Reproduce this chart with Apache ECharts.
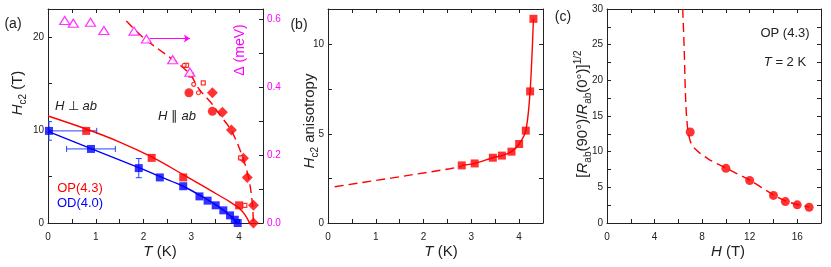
<!DOCTYPE html>
<html><head><meta charset="utf-8">
<script src="https://cdn.jsdelivr.net/npm/echarts@6/dist/echarts.min.js"></script>
<style>html,body{margin:0;padding:0;background:#fff}#c{width:831px;height:267px}</style>
</head><body><div id="c"></div>
<script>
// ---------- Panel (a): Hc2 vs T ----------
const aOpPerp = [[0.80, 9.9], [2.17, 7.0], [2.83, 4.9], [4.00, 1.9]];
const aOpPerpFit = [[0, 11.5], [0.8, 10.1], [1.5, 8.7], [2.17, 7.1], [2.83, 5.2], [3.4, 3.5], [3.8, 2.3], [4.0, 1.6], [4.12, 0.9], [4.22, 0]];
const aOd = [[0.02, 9.9], [0.90, 7.96], [1.90, 5.9], [2.34, 4.9], [2.83, 3.95], [3.17, 2.86], [3.34, 2.4], [3.51, 1.9], [3.67, 1.36], [3.81, 0.82], [3.91, 0.35], [3.97, 0]];
const aOdFit = [[0, 9.85], [0.9, 8.0], [1.9, 5.95], [2.34, 5.0], [2.83, 3.95], [3.34, 2.5], [3.67, 1.4], [3.97, 0]];
// [T, Hc2, xErr, yErr]
const aOdErr = [[0.02, 9.9, 1.0, 1.0], [0.90, 7.96, 0.51, 0], [1.90, 5.9, 0, 1.03]];
const aParCircles = [[2.95, 14.0], [3.44, 12.0]];
const aParDiamonds = [[3.44, 14.0], [3.65, 11.9], [3.84, 10.0], [4.09, 6.95], [4.17, 4.9], [4.30, 1.9], [4.30, 0]];
const aParFit = [[1.64, 21.7], [2.0, 19.9], [2.6, 17.6], [2.97, 16.0], [3.16, 14.4], [3.4, 13.0], [3.6, 11.6], [3.84, 9.9], [4.08, 7.0], [4.2, 4.8], [4.27, 2.5], [4.30, 0]];
const aSmallSquares = [[2.90, 16.95], [2.99, 15.9], [3.25, 15.05], [4.03, 7.0], [4.12, 1.9]];
const aSmallCircles = [[2.85, 16.95], [3.05, 14.9], [3.15, 14.0]];
const aGap = [[0.35, 0.595], [0.53, 0.587], [0.89, 0.59], [1.17, 0.566], [1.80, 0.564], [2.06, 0.541], [2.61, 0.48], [2.97, 0.443]];
const aGapArrow = [[2.13, 0.542], [2.97, 0.542]];
const aXAxis = {min: 0, max: 4.5, interval: 1, showMax: false};
const aYAxis = {min: 0, max: 23, interval: 10, showMax: false};
const aY2Axis = {min: 0, max: 0.629, interval: 0.2, showMax: false};

// ---------- Panel (b): anisotropy ----------
const bAniso = [[2.80, 3.23], [3.07, 3.34], [3.45, 3.66], [3.64, 3.78], [3.84, 4.0], [4.0, 4.43], [4.14, 5.18], [4.23, 7.38], [4.30, 11.45]];
const bAnisoExtrap = [[0.14, 2.03], [1.35, 2.53], [2.55, 3.04], [2.80, 3.18]];
const bXAxis = {min: 0, max: 4.5, interval: 1, showMax: false};
const bYAxis = {min: 0, max: 12, interval: 5, showMax: false};

// ---------- Panel (c): resistance ratio ----------
const cRatio = [[7, 12.75], [10, 7.66], [12, 5.95], [14, 3.87], [15, 3.0], [16, 2.55], [17, 2.2]];
const cRatioFit = [[6.37, 30], [6.5, 24], [6.6, 18], [6.75, 13.8], [7.0, 11.5], [7.4, 10.4], [8.5, 9.0], [10, 7.7], [12, 6.0], [14, 3.95], [15, 3.1], [16, 2.6], [17, 2.25]];
const cXAxis = {min: 0, max: 18, interval: 4, showMax: false};
const cYAxis = {min: 0, max: 30, interval: 5, showMax: true};

const FONT = "'Liberation Sans', Arial, Helvetica, sans-serif";
const RED = '#ff0000', BLUE = '#0000ff', MAG = '#ff00ff', INK = '#222';

function frameAxis(cfg, gridIndex, position, showLabel, labelColor, fmt) {
  return {
    type: 'value', gridIndex, position, min: cfg.min, max: cfg.max, interval: cfg.interval,
    axisLine: {show: true, onZero: false, lineStyle: {color: '#222', width: 1}},
    axisTick: {show: true, inside: true, length: 4, lineStyle: {color: '#222'}},
    minorTick: {show: true, splitNumber: 2, length: 4, lineStyle: {color: '#222'}},
    splitLine: {show: false}, minorSplitLine: {show: false},
    axisLabel: {show: showLabel, color: labelColor || INK, fontSize: 10, fontFamily: FONT,
      showMaxLabel: cfg.showMax, showMinLabel: true,
      margin: (position === 'bottom' || position === 'top') ? 9 : 4,
      formatter: fmt || (v => String(v))}
  };
}

const grids = [
  {left: 48, top: 9, width: 215, height: 214},
  {left: 328, top: 9, width: 215, height: 214},
  {left: 607, top: 9, width: 214, height: 214}
];

const xAxes = [
  frameAxis(aXAxis, 0, 'bottom', true), frameAxis(aXAxis, 0, 'top', false),
  frameAxis(bXAxis, 1, 'bottom', true), frameAxis(bXAxis, 1, 'top', false),
  frameAxis(cXAxis, 2, 'bottom', true), frameAxis(cXAxis, 2, 'top', false)
];
const yAxes = [
  frameAxis(aYAxis, 0, 'left', true), frameAxis(aY2Axis, 0, 'right', true, MAG, v => v.toFixed(1)),
  frameAxis(bYAxis, 1, 'left', true), frameAxis(bYAxis, 1, 'right', false),
  frameAxis(cYAxis, 2, 'left', true), frameAxis(cYAxis, 2, 'right', false)
];

function fitLine(data, xi, yi, color, dashed, smooth) {
  return {type: 'line', xAxisIndex: xi, yAxisIndex: yi, data, showSymbol: false, symbol: 'none',
    smooth: smooth == null ? 0.35 : smooth, lineStyle: {color, width: 1.4, type: dashed ? [9, 5] : 'solid'},
    z: 2, silent: true, animation: false};
}
function pts(data, xi, yi, symbol, size, color, hollow) {
  return {type: 'scatter', xAxisIndex: xi, yAxisIndex: yi, data, symbol, symbolSize: size,
    itemStyle: hollow ? {color: '#fff', borderColor: color, borderWidth: 1.2} : {color}, z: 3, animation: false};
}

const errSeries = {
  type: 'custom', xAxisIndex: 0, yAxisIndex: 0, data: aOdErr, clip: true, z: 1,
  renderItem(params, api) {
    const x = api.value(0), y = api.value(1), xe = api.value(2), ye = api.value(3);
    const st = {stroke: '#2244ff', lineWidth: 1};
    const ch = [];
    const seg = (p, q) => ch.push({type: 'line', shape: {x1: p[0], y1: p[1], x2: q[0], y2: q[1]}, style: st});
    if (xe > 0) {
      const p = api.coord([x - xe, y]), q = api.coord([x + xe, y]);
      seg(p, q); seg([p[0], p[1] - 3], [p[0], p[1] + 3]); seg([q[0], q[1] - 3], [q[0], q[1] + 3]);
    }
    if (ye > 0) {
      const p = api.coord([x, y - ye]), q = api.coord([x, y + ye]);
      seg(p, q); seg([p[0] - 3, p[1]], [p[0] + 3, p[1]]); seg([q[0] - 3, q[1]], [q[0] + 3, q[1]]);
    }
    return {type: 'group', children: ch};
  }
};

const series = [
  errSeries,
  fitLine(aOpPerpFit, 0, 0, RED, false),
  fitLine(aOdFit, 0, 0, BLUE, false),
  fitLine(aParFit, 0, 0, RED, true),
  pts(aOpPerp, 0, 0, 'rect', 8, RED),
  pts(aOd, 0, 0, 'rect', 8, BLUE),
  pts(aParCircles, 0, 0, 'circle', 9, RED),
  pts(aParDiamonds, 0, 0, 'diamond', 11, RED),
  pts(aSmallSquares, 0, 0, 'rect', 4, RED, true),
  pts(aSmallCircles, 0, 0, 'circle', 4, RED, true),
  Object.assign(pts(aGap, 0, 1, 'triangle', [10, 8], MAG, true), {
    markLine: {silent: true, animation: false, symbol: ['none', 'arrow'], symbolSize: 6,
      lineStyle: {color: MAG, width: 1, type: 'solid'}, label: {show: false},
      data: [[{coord: aGapArrow[0]}, {coord: aGapArrow[1]}]]}
  }),
  fitLine(bAnisoExtrap, 2, 2, RED, true, 0),
  fitLine(bAniso, 2, 2, RED, false, 0.3),
  pts(bAniso, 2, 2, 'rect', 8, RED),
  fitLine(cRatioFit, 4, 4, RED, true, 0.3),
  pts(cRatio, 4, 4, 'circle', 9, RED)
];

function txt(x, y, text, size, color, rot) {
  const r = {};
  const base = {fontSize: size, fontFamily: FONT, fill: color || INK};
  r.i = Object.assign({}, base, {fontStyle: 'italic', lineHeight: 20});
  r.n = Object.assign({}, base, {lineHeight: 20});
  r.s = Object.assign({}, base, {fontSize: Math.round(size * 0.68), verticalAlign: 'bottom', lineHeight: 13});
  r.sup = Object.assign({}, base, {fontSize: Math.round(size * 0.68), verticalAlign: 'top', lineHeight: 12});
  return {type: 'text', x, y, rotation: rot || 0, silent: true, z: 10,
    style: Object.assign({text, align: 'center', verticalAlign: 'middle', rich: r}, base)};
}

const graphics = [
  txt(13, 24, '(a)', 14),
  txt(299, 25, '(b)', 14),
  txt(563, 17, '(c)', 14),
  txt(18, 93, '{i|H}{s|c2}{n| (T)}', 15, INK, Math.PI / 2),
  txt(310, 121, '{i|H}{s|c2}{n| anisotropy}', 15, INK, Math.PI / 2),
  txt(583, 114, '{n|[}{i|R}{s|ab}{n|(90°)/}{i|R}{s|ab}{n|(0°)]}{sup|1/2}', 15, INK, Math.PI / 2),
  txt(160, 252, '{i|T}{n| (K)}', 15),
  txt(441, 252, '{i|T}{n| (K)}', 15),
  txt(728, 252, '{i|H}{n| (T)}', 15),
  txt(240, 50, 'Δ (meV)', 14, MAG, Math.PI / 2),
  txt(76, 106, '{i|H}{n| ⊥ }{i|ab}', 13),
  txt(177, 116, '{i|H}{n| ∥ }{i|ab}', 13),
  txt(80, 188, 'OP(4.3)', 13, RED),
  txt(80, 203, 'OD(4.0)', 13, BLUE),
  txt(785, 33, 'OP (4.3)', 13),
  txt(785, 62, '{i|T}{n| = 2 K}', 13)
];

const chart = echarts.init(document.getElementById('c'), null, {renderer: 'canvas'});
chart.setOption({
  animation: false,
  backgroundColor: '#fff',
  textStyle: {fontFamily: FONT},
  grid: grids, xAxis: xAxes, yAxis: yAxes, series, graphic: graphics
});
</script></body></html>
